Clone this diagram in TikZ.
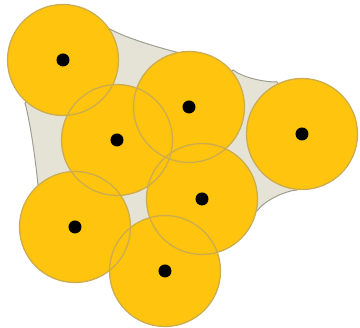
\documentclass[tikz,border=0pt]{standalone}
\definecolor{discfill}{RGB}{254,196,14}
\definecolor{discline}{RGB}{205,172,78}
\definecolor{hullfill}{RGB}{229,227,213}
\definecolor{hullline}{RGB}{158,158,146}
\tikzset{
  disc/.style={circle, fill=discfill, minimum size=111pt, inner sep=0pt},
  ring/.style={circle, draw=discline, line width=1.3pt, minimum size=111pt, inner sep=0pt},
  centerdot/.style={circle, fill=black, minimum size=13pt, inner sep=0pt},
}
\begin{document}
\begin{tikzpicture}[x=1pt,y=-1pt]
\useasboundingbox (0,0) rectangle (360,328);
% background hull
\filldraw[fill=hullfill, draw=hullline, line width=1pt]
  (63,60) -- (108,28) .. controls (125,38) and (160,48) .. (180,53)
  -- (189,107) -- (233,70) .. controls (242,77) and (262,82) .. (277,82)
  -- (302,134) -- (297,190) .. controls (285,191) and (265,200) .. (257,211)
  -- (202,199) -- (165,271) -- (75,227) -- (38,185)
  .. controls (36,165) and (31,125) .. (25,103) -- cycle;
% discs
\foreach \n/\x/\y in {tl/63/60, ml/117/140, tc/189/107, r/302/134, bl/75/227, mr/202/199, b/165/271}{
  \node[disc] (\n) at (\x,\y) {};
}
\foreach \n in {tl, ml, tc, r, bl, mr, b}{
  \node[ring] (\n-ring) at (\n) {};
  \node[centerdot] (\n-dot) at (\n) {};
}
\end{tikzpicture}
\end{document}
